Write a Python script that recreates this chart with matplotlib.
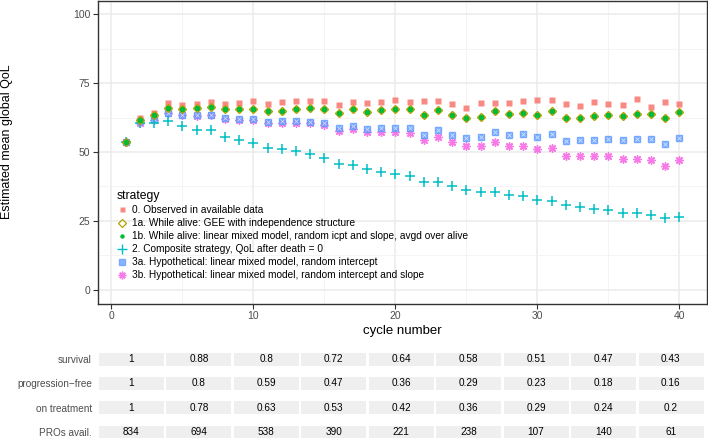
import matplotlib
matplotlib.use("Agg")
import matplotlib.pyplot as plt
from matplotlib.lines import Line2D
import numpy as np

plt.rcParams["font.family"] = ["Liberation Sans", "DejaVu Sans"]

cycles = np.arange(1, 41)

observed = [53.5, 62.3, 64.0, 67.7, 67.0, 67.3, 68.0, 67.3, 67.7, 68.5,
            67.3, 68.0, 68.5, 68.5, 68.5, 67.0, 68.0, 67.7, 68.0, 69.0,
            68.0, 68.4, 68.4, 67.6, 65.9, 67.9, 67.8, 67.7, 68.4, 68.8,
            69.0, 67.6, 66.6, 68.0, 67.4, 67.1, 69.3, 66.5, 68.0, 67.4]
gee_alive = [53.5, 61.6, 63.4, 66.0, 65.6, 65.9, 66.3, 65.5, 65.6, 65.6,
             64.9, 65.0, 65.7, 66.0, 65.7, 64.3, 65.5, 64.5, 65.2, 65.5,
             65.5, 63.3, 65.1, 63.3, 62.2, 62.8, 64.8, 63.9, 64.3, 63.3,
             64.8, 62.2, 62.5, 62.9, 63.5, 63.0, 63.9, 63.9, 62.2, 64.5]
lmm_alive = [53.5, 61.6, 63.4, 66.0, 65.6, 65.9, 66.3, 65.5, 65.6, 65.6,
             64.9, 65.0, 65.7, 66.0, 65.7, 64.3, 65.5, 64.5, 65.2, 65.5,
             65.5, 63.3, 65.1, 63.3, 62.2, 62.8, 64.8, 63.9, 64.3, 63.3,
             64.8, 62.2, 62.5, 62.9, 63.5, 63.0, 63.9, 63.9, 62.2, 64.5]
composite = [53.5, 60.4, 60.4, 61.2, 59.4, 57.9, 57.9, 55.5, 54.5, 53.3,
             51.6, 51.0, 50.4, 49.1, 47.8, 45.5, 45.1, 43.7, 42.7, 42.1,
             41.4, 39.1, 39.0, 37.5, 36.3, 35.6, 35.6, 34.5, 33.9, 32.6,
             32.2, 30.8, 30.2, 29.4, 29.1, 28.0, 27.7, 27.3, 25.9, 26.3]
hypo_icpt = [53.5, 61.2, 62.0, 64.3, 63.4, 63.4, 63.6, 62.4, 62.0, 62.0,
             60.9, 61.1, 61.1, 60.9, 60.5, 58.7, 59.5, 58.5, 58.7, 58.8,
             58.7, 56.3, 57.9, 56.1, 55.0, 55.4, 57.2, 56.1, 56.5, 55.5,
             56.6, 54.0, 54.3, 54.3, 54.8, 54.3, 54.8, 54.6, 52.9, 55.1]
hypo_slope = [53.5, 60.6, 61.6, 64.0, 63.4, 63.2, 63.4, 62.0, 61.6, 61.6,
              60.4, 60.6, 60.6, 60.4, 59.8, 57.6, 58.3, 57.3, 57.2, 57.2,
              56.8, 54.3, 55.6, 53.5, 52.2, 52.2, 53.8, 52.3, 52.1, 51.0,
              51.6, 48.7, 48.7, 48.6, 48.6, 47.6, 47.6, 47.1, 45.0, 47.0]

labels = ["0. Observed in available data",
          "1a. While alive: GEE with independence structure",
          "1b. While alive: linear mixed model, random icpt and slope, avgd over alive",
          "2. Composite strategy, QoL after death = 0",
          "3a. Hypothetical: linear mixed model, random intercept",
          "3b. Hypothetical: linear mixed model, random intercept and slope"]

row_names = ["survival", "progression\u2212free", "on treatment", "PROs avail."]
survival = ["1", "0.88", "0.8", "0.72", "0.64", "0.58", "0.51", "0.47", "0.43"]
prog_free = ["1", "0.8", "0.59", "0.47", "0.36", "0.29", "0.23", "0.18", "0.16"]
on_treat = ["1", "0.78", "0.63", "0.53", "0.42", "0.36", "0.29", "0.24", "0.2"]
pros_avail = ["834", "694", "538", "390", "221", "238", "107", "140", "61"]

W, H = 708, 438
fig = plt.figure(figsize=(W / 100, H / 100), dpi=100)

# main panel
ax = fig.add_axes([98 / W, 1 - 303.5 / H, (707 - 98) / W, 303 / H])
ax.set_xlim(-0.95, 41.95)
ax.set_ylim(-5, 105)

ax.plot(cycles, observed, ls="none", marker="s", ms=4.6,
        mfc="#F8766D", mec="none", alpha=0.85, zorder=3)
ax.plot(cycles, hypo_slope, ls="none", marker=(8, 2, 0), ms=6,
        mec="#F564E3", mew=1.0, alpha=0.85, zorder=4)
ax.plot(cycles, hypo_icpt, ls="none", marker="s", ms=5,
        mfc="#619CFF", mec="#619CFF", alpha=0.8, zorder=5)
ax.plot(cycles, hypo_icpt, ls="none", marker="x", ms=3, mec="white",
        mew=0.5, alpha=0.7, zorder=5.1)
ax.plot(cycles, composite, ls="none", marker="+", ms=7,
        mec="#00BFC4", mew=1.1, zorder=6)
ax.plot(cycles, gee_alive, ls="none", marker="D", ms=4.4,
        mfc="none", mec="#B79F00", mew=1.0, zorder=7)
ax.plot(cycles, lmm_alive, ls="none", marker="o", ms=4.0,
        mfc="#00BA38", mec="none", zorder=8)

ax.set_xticks([0, 10, 20, 30, 40])
ax.set_xticks([5, 15, 25, 35], minor=True)
ax.set_yticks([0, 25, 50, 75, 100])
ax.set_yticks([12.5, 37.5, 62.5, 87.5], minor=True)
ax.grid(True, which="major", color="#EBEBEB", lw=1.1, zorder=0)
ax.grid(True, which="minor", color="#F2F2F2", lw=0.6, zorder=0)
ax.set_axisbelow(True)
for s in ax.spines.values():
    s.set_color("#333333")
    s.set_linewidth(1.0)
ax.tick_params(which="major", length=3.5, width=0.8, color="#333333",
               labelsize=7.5, labelcolor="#4D4D4D", pad=2)
ax.tick_params(which="minor", length=0)
ax.set_xlabel("cycle number", fontsize=9.5, labelpad=3)
fig.text(7 / W, 1 - 142 / H, "Estimated mean global QoL", rotation=90,
         fontsize=9, ha="center", va="center")

# smaller keys for the legend
handles = [
    Line2D([], [], ls="none", marker="s", ms=3.6, mfc="#F8766D", mec="none", alpha=0.85),
    Line2D([], [], ls="none", marker="D", ms=4.0, mfc="none", mec="#B79F00", mew=0.9),
    Line2D([], [], ls="none", marker="o", ms=3.2, mfc="#00BA38", mec="none"),
    Line2D([], [], ls="none", marker="+", ms=7, mec="#00BFC4", mew=1.0),
    Line2D([], [], ls="none", marker="s", ms=4.0, mfc="#619CFF", mec="#619CFF", alpha=0.75),
    Line2D([], [], ls="none", marker=(8, 2, 0), ms=5.5, mec="#F564E3", mew=1.0, alpha=0.85),
]
leg = ax.legend(handles, labels, title="strategy", loc="upper left", frameon=False,
                bbox_to_anchor=(117 / W, 1 - 190 / H),
                bbox_transform=fig.transFigure, fontsize=7.25,
                title_fontsize=8.7, handlelength=0.9, handletextpad=0.55,
                labelspacing=0.3, borderpad=0, borderaxespad=0)
leg._legend_box.align = "left"

# risk table below
tab = fig.add_axes([99 / W, 0, (706 - 99) / W, 98 / H])
tab.set_xlim(0, 9)
row_h = 24.3
tab.set_ylim(-6 / row_h, -6 / row_h + 98 / row_h)
rows = [survival, prog_free, on_treat, pros_avail]
for r, vals in enumerate(rows):
    yv = 3 - r
    tab.barh([yv] * len(vals), 0.963, left=np.arange(len(vals)),
             height=13 / row_h, align="center", color="#EFEFEF", lw=0)
    for i, v in enumerate(vals):
        tab.text(i + 0.48, yv, v, ha="center", va="center", fontsize=7.2,
                 color="black")
tab.set_yticks([3, 2, 1, 0], row_names)
tab.tick_params(axis="y", length=0, pad=5, labelsize=7.2, labelcolor="#4D4D4D")
tab.set_xticks([])
for s in tab.spines.values():
    s.set_visible(False)

fig.savefig("out.png", dpi=100)
